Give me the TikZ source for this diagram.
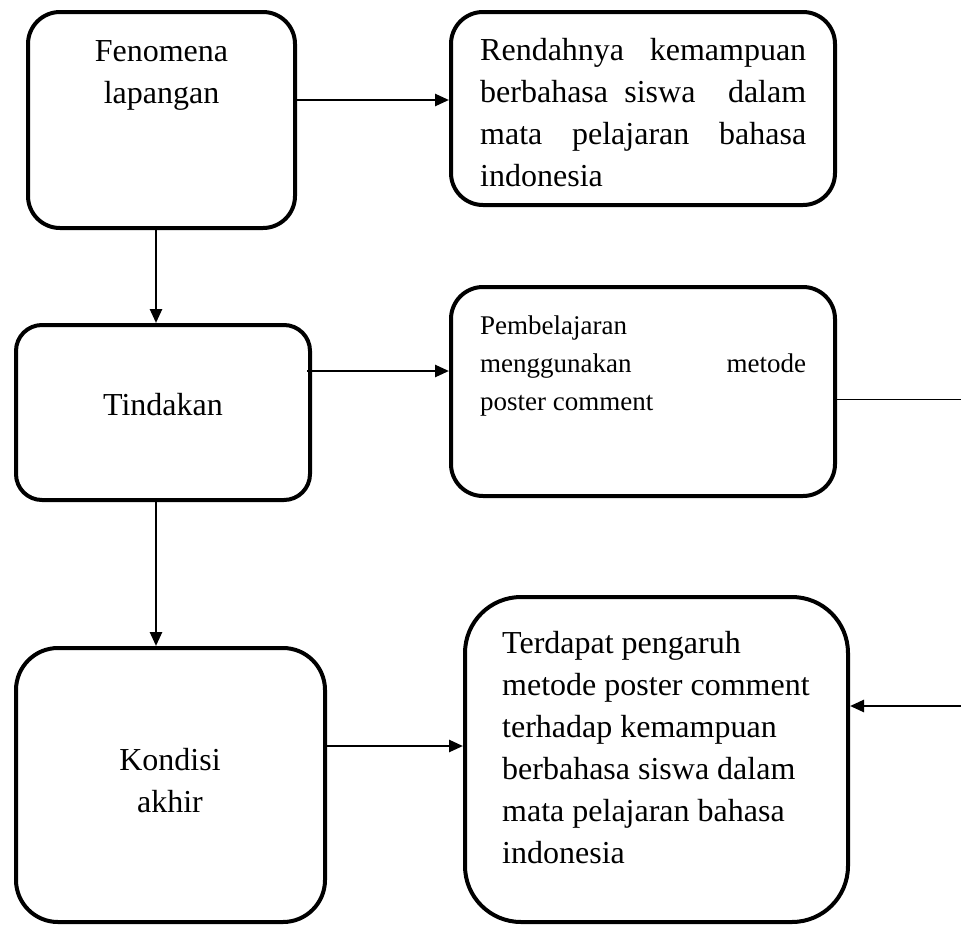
\documentclass[tikz,border=0pt]{standalone}
\usepackage{fontspec}
\setmainfont{Liberation Serif}
\usetikzlibrary{arrows.meta}
\tikzset{
  x=1pt,y=-1pt,
  box/.style={draw,line width=4pt,minimum width=#1,inner sep=0pt},
  arr/.style={line width=2.6pt,-{Triangle[length=14pt,width=12pt]}},
  big/.style={font=\fontsize{32pt}{42pt}\selectfont},
  mid/.style={font=\fontsize{27pt}{38pt}\selectfont},
  txt/.style={inner sep=0pt,align=left,anchor=base west}
}
\begin{document}
\begin{tikzpicture}
\useasboundingbox[fill=white] (0,0) rectangle (961,924);
% boxes
\node[box=267pt,minimum height=216pt,rounded corners=32pt] (fen) at (161.5,120) {};
\node[box=384pt,minimum height=193pt,rounded corners=32pt] (ren) at (643,108.5) {};
\node[box=294pt,minimum height=175pt,rounded corners=26pt] (tin) at (163,412.5) {};
\node[box=384pt,minimum height=209pt,rounded corners=32pt] (pem) at (643,391.5) {};
\node[box=309pt,minimum height=274pt,rounded corners=42pt] (kon) at (170.5,785) {};
\node[box=383pt,minimum height=325pt,rounded corners=56pt] (ter) at (656.5,759.5) {};
% texts (base anchor = baseline of last line)
\node[big,inner sep=0pt,align=center,anchor=base] (fent) at (161.5,103) {Fenomena\\lapangan};
\node[big,txt] (rent) at (480,186) {\hbox to 326pt{Rendahnya\hfill kemampuan}\\\hbox to 326pt{berbahasa\hfill siswa\hfill\hfill dalam}\\\hbox to 326pt{mata\hfill pelajaran\hfill bahasa}\\indonesia};
\node[big,inner sep=0pt,anchor=base] (tint) at (163,415) {Tindakan};
\node[mid,txt] (pemt) at (480,410) {Pembelajaran\\\hbox to 326pt{menggunakan\hfill metode}\\poster comment};
\node[big,inner sep=0pt,align=center,anchor=base] (kont) at (170,812) {Kondisi\\akhir};
\node[big,txt] (tert) at (502,863) {Terdapat pengaruh\\metode poster comment\\terhadap kemampuan\\berbahasa siswa dalam\\mata pelajaran bahasa\\indonesia};
% connectors
\coordinate (r1) at (961,399);
\coordinate (r2) at (961,706);
\draw[arr] (fen.east |- 0,100) -- (ren.west |- 0,100);
\draw[arr] (fen.south -| 156,0) -- (tin.north -| 156,0);
\draw[arr] ([xshift=-5pt]tin.east |- 0,371) -- (pem.west |- 0,371);
\draw[arr] (tin.south -| 156,0) -- (kon.north -| 156,0);
\draw[arr] (kon.east |- 0,746) -- (ter.west |- 0,746);
\draw[line width=1pt] (pem.east |- r1) -- (r1);
\draw[arr] (r2) -- (ter.east |- r2);
\end{tikzpicture}
\end{document}
